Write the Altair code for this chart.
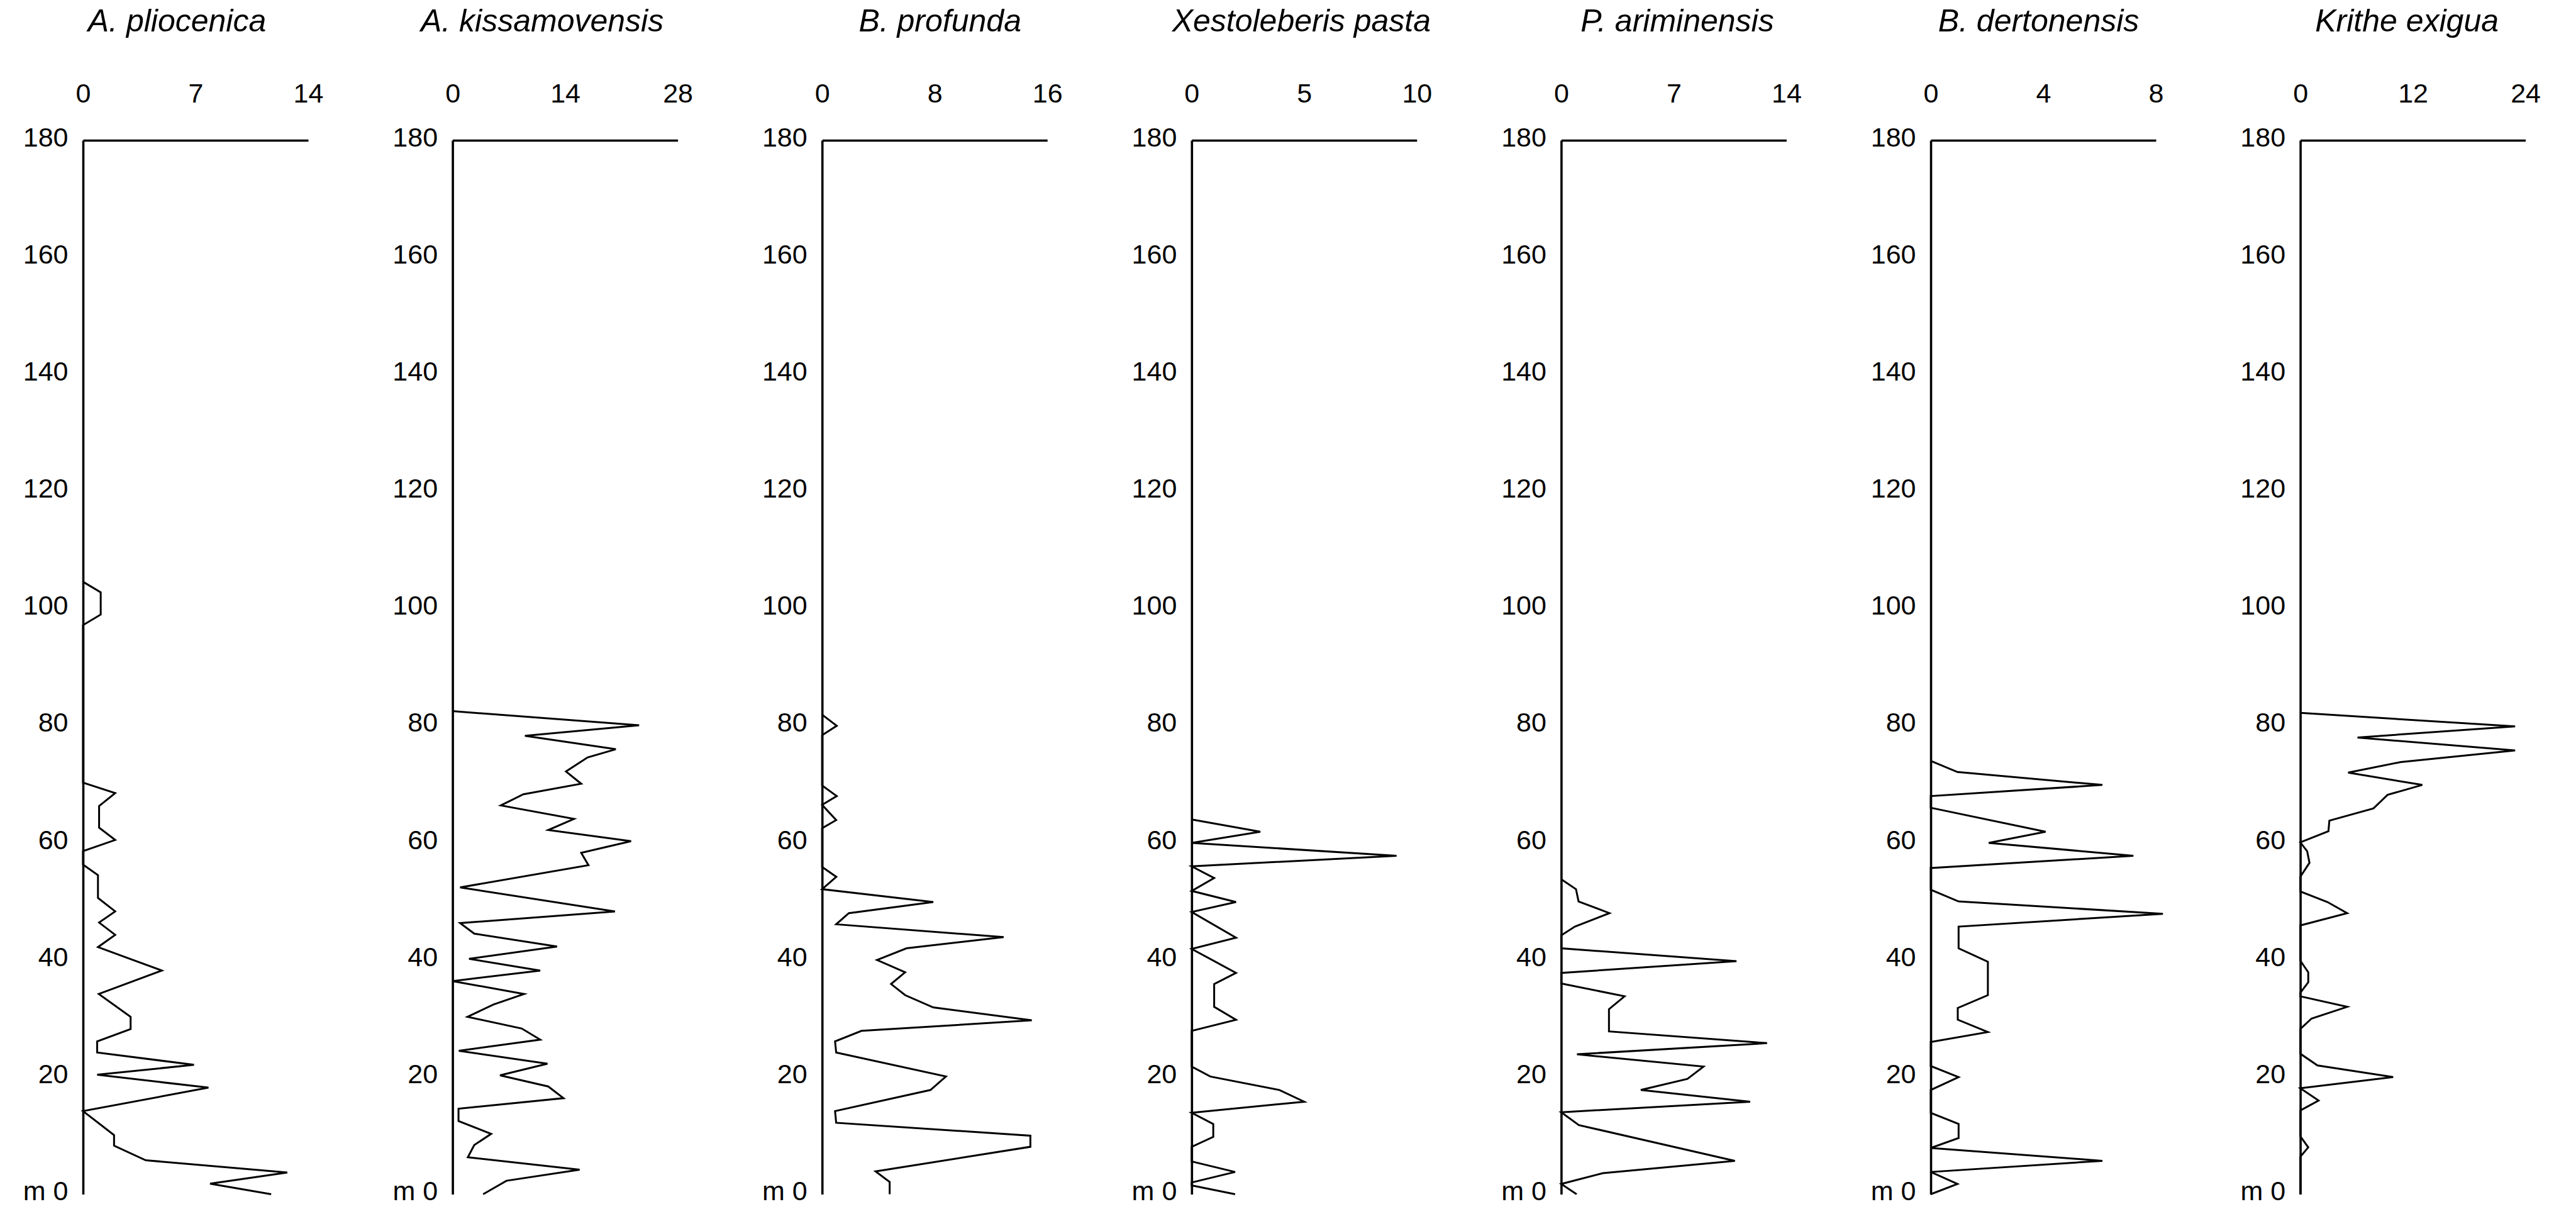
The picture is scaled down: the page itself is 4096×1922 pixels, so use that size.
import altair as alt
import pandas as pd

# ---------------- data ----------------
species = ["A. pliocenica", "A. kissamovensis", "B. profunda", "Xestoleberis pasta",
           "P. ariminensis", "B. dertonensis", "Krithe exigua"]
x_max = [14, 28, 16, 10, 14, 8, 24]
x_ticks = [[0, 7, 14], [0, 14, 28], [0, 8, 16], [0, 5, 10], [0, 7, 14], [0, 4, 8], [0, 12, 24]]
y_ticks = [0, 20, 40, 60, 80, 100, 120, 140, 160, 180]

depth_1 = [104.6, 102.8, 99.0, 97.2, 70.3, 68.5, 66.3, 62.6, 60.5, 58.6, 56.3, 54.5, 50.6, 48.3,
           46.4, 44.3, 42.2, 38.2, 34.2, 30.3, 28.2, 26.1, 24.2, 22.1, 20.4, 18.2, 14.2, 10.1,
           8.3, 5.8, 3.7, 1.8, 0.0]
value_1 = [0, 1.1, 1.1, 0, 0, 2.0, 1.0, 1.0, 2.0, 0, 0, 0.93, 0.93, 2.0, 1.0, 2.0, 0.93, 4.9,
           0.98, 2.96, 2.96, 0.88, 0.88, 6.9, 0.88, 7.8, 0, 1.93, 1.93, 3.9, 12.7, 7.9, 11.7]

depth_2 = [82.5, 80.1, 78.3, 76.0, 74.6, 72.2, 70.1, 68.3, 66.4, 64.1, 62.2, 60.3, 58.3, 56.2,
           52.4, 48.3, 46.3, 44.5, 42.3, 40.2, 38.2, 36.4, 34.2, 32.4, 30.3, 28.3, 26.4, 24.5,
           22.3, 20.3, 18.4, 16.4, 14.6, 12.5, 10.3, 8.4, 6.3, 4.2, 2.3, 0.0]
value_2 = [0, 23.2, 9.0, 20.3, 16.8, 14.1, 16.0, 8.8, 6.0, 15.1, 11.9, 22.2, 16.0, 16.9, 0.94,
           20.2, 0.94, 2.7, 13.0, 2.05, 10.9, 0, 8.9, 5.1, 1.86, 8.6, 10.9, 0.78, 11.8, 5.9,
           11.9, 13.8, 0.74, 0.74, 4.8, 2.7, 1.9, 15.8, 6.7, 3.8]

depth_3 = [81.9, 80.0, 78.4, 69.8, 68.0, 66.5, 63.9, 62.5, 55.9, 54.2, 52.1, 49.9, 48.0, 46.1,
           43.9, 42.0, 40.0, 37.9, 35.9, 34.0, 31.9, 29.7, 27.9, 26.1, 24.2, 20.1, 17.8, 14.2,
           12.2, 10.0, 8.1, 3.9, 2.1, 0.0]
value_3 = [0, 1.04, 0, 0, 1.04, 0, 1.0, 0, 0, 1.01, 0, 7.9, 1.9, 1.0, 12.9, 6.0, 3.9, 5.9, 4.9,
           5.9, 7.9, 14.9, 2.8, 0.92, 1.0, 8.8, 7.7, 0.92, 1.0, 14.8, 14.8, 3.8, 4.8, 4.8]

depth_4 = [64.0, 61.9, 60.0, 57.8, 56.0, 54.0, 51.8, 49.9, 48.2, 43.8, 41.9, 37.8, 35.9, 32.0,
           29.8, 27.9, 21.8, 20.1, 17.8, 15.8, 13.9, 12.0, 9.8, 8.1, 5.6, 3.8, 2.0, 1.5, 0.0]
value_4 = [0, 3.05, 0, 9.1, 0, 1.0, 0, 1.97, 0, 1.97, 0, 1.97, 1.0, 1.0, 1.97, 0, 0, 0.83, 3.9,
           5.0, 0, 0.96, 0.96, 0, 0, 1.93, 0, 0, 1.93]

depth_5 = [53.8, 52.1, 50.0, 48.0, 45.7, 44.2, 42.0, 39.8, 37.8, 36.0, 33.8, 31.6, 27.8, 25.8,
           23.9, 21.8, 19.7, 17.8, 15.8, 14.0, 11.8, 5.7, 3.6, 1.75, 0.0]
value_5 = [0, 0.92, 1.08, 3.0, 0.85, 0, 0, 10.9, 0, 0, 3.94, 2.97, 2.97, 12.8, 0.98, 8.85, 7.85,
           4.95, 11.75, 0, 1.1, 10.8, 2.6, 0, 0.96]

depth_6 = [74.0, 72.1, 69.9, 68.0, 66.0, 61.9, 60.0, 57.8, 55.7, 52.0, 50.0, 47.9, 45.7, 42.0,
           39.7, 34.0, 31.8, 29.8, 27.7, 26.0, 21.9, 20.0, 17.8, 13.9, 12.0, 9.6, 7.9, 5.7, 3.8,
           1.75, 0.0]
value_6 = [0, 0.95, 6.1, 0, 0, 4.08, 2.06, 7.2, 0, 0, 0.99, 8.25, 0.99, 0.99, 2.03, 2.03, 0.96,
           0.96, 2.03, 0, 0, 0.99, 0, 0, 0.99, 0.99, 0, 6.1, 0, 0.95, 0]

depth_7 = [82.2, 79.9, 78.0, 75.8, 73.8, 72.0, 69.9, 68.2, 65.9, 63.8, 62.0, 60.1, 58.6, 56.6,
           54.2, 51.7, 49.9, 48.0, 45.9, 39.9, 37.9, 36.2, 34.4, 33.8, 32.0, 30.0, 28.2, 24.0,
           22.0, 20.0, 18.1, 16.0, 14.3, 9.9, 8.0, 6.4, 0.0]
value_7 = [0, 22.9, 6.1, 22.9, 10.7, 5.1, 13.0, 9.3, 7.8, 3.1, 3.0, 0, 0.73, 0.98, 0, 0, 2.9,
           5.0, 0, 0, 0.85, 0.85, 0, 0, 5.0, 1.2, 0, 0, 1.83, 9.9, 0, 1.95, 0, 0, 0.85, 0, 0]

depths = [depth_1, depth_2, depth_3, depth_4, depth_5, depth_6, depth_7]
values = [value_1, value_2, value_3, value_4, value_5, value_6, value_7]

# ---------------- style ----------------
PANEL_W = 358
PANEL_H = 1675.5
SPACING = 229.6
title_shift = [-30, -37, 8, -5, 5, -8, -10]
FONT = "Liberation Sans"

panels = []
for i in range(len(species)):
    df = pd.DataFrame({"depth": depths[i], "value": values[i],
                       "seq": list(range(len(depths[i])))})
    ch = alt.Chart(df).mark_line(color="black", strokeWidth=3.0, clip=False,
                                 strokeJoin="miter").encode(
        x=alt.X("value:Q",
                scale=alt.Scale(domain=[0, x_max[i]], nice=False, zero=True),
                axis=alt.Axis(orient="top", values=x_ticks[i], title=species[i],
                              titleX=PANEL_W / 2 + title_shift[i], titleY=-189,
                              titleAlign="center", titleBaseline="middle",
                              titleAngle=0,
                              labelBaseline="middle", labelPadding=74,
                              labelAlign="center")),
        y=alt.Y("depth:Q",
                scale=alt.Scale(domain=[0, 180], nice=False),
                axis=alt.Axis(values=y_ticks, title=None,
                              labelExpr="datum.value == 0 ? 'm 0' : datum.label",
                              labelPadding=24, labelOffset=-4,
                              labelBaseline="middle")),
        order=alt.Order("seq:Q"),
    ).properties(width=PANEL_W, height=PANEL_H)
    panels.append(ch)

chart = alt.hconcat(*panels, spacing=SPACING, bounds="flush").configure_view(
    stroke=None
).configure_axis(
    grid=False, ticks=False, tickSize=0,
    domainColor="black", domainWidth=3.6,
    labelFont=FONT, labelFontSize=43, labelColor="black",
    titleFont=FONT, titleFontSize=50, titleFontStyle="italic",
    titleFontWeight="normal", titleColor="black",
    labelOverlap=False, labelFlush=False,
).properties(
    padding={"left": 36, "top": 9, "right": 10, "bottom": 5},
    background="white",
)

chart.save("out.html", embed_options={"renderer": "svg", "actions": False})
